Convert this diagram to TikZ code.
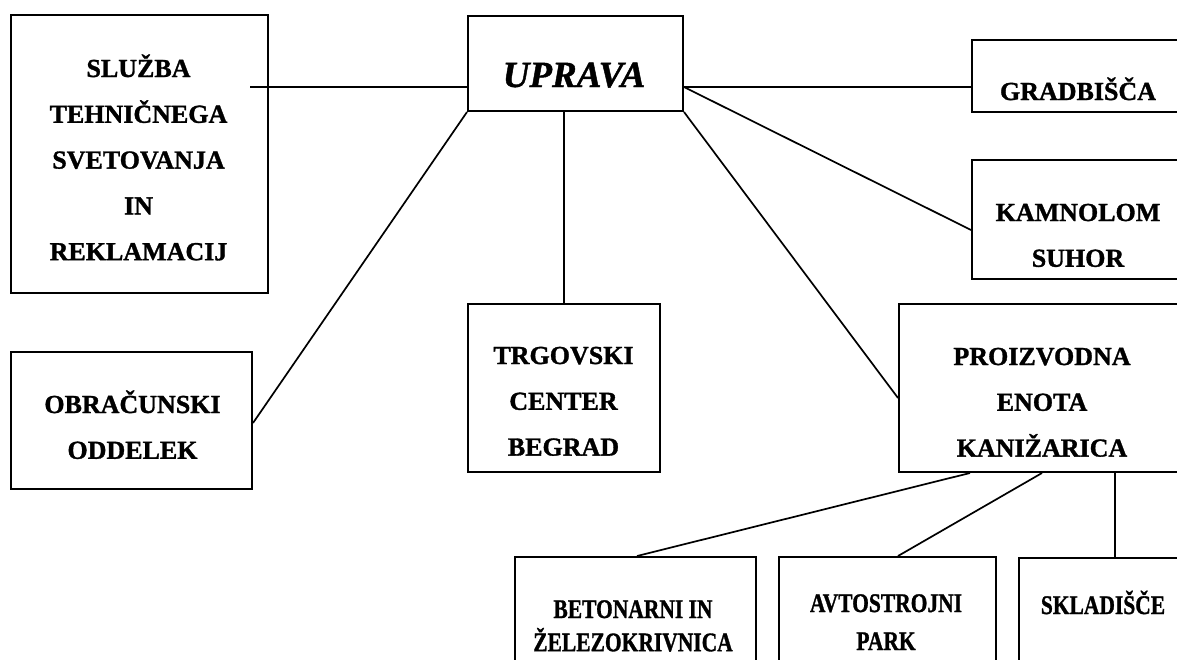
\documentclass[tikz,border=0pt]{standalone}
\usepackage{fontspec}
\usepackage{graphicx}
\setmainfont{Liberation Serif}[BoldFeatures={FakeBold=1.2},BoldItalicFeatures={FakeBold=1.2}]
\usetikzlibrary{calc}
\newcommand{\mlines}[1]{\begin{tabular}[t]{@{}c@{}}#1\end{tabular}}
\newcommand{\tall}[1]{\scalebox{1}[1.25]{#1}}
\tikzset{
  box/.style={draw, line width=2pt, rectangle, inner sep=0pt, anchor=north west},
  conn/.style={line width=1.7pt},
  txt/.style={inner sep=0pt, anchor=base, font=\fontsize{26}{45.8}\selectfont\bfseries},
  stxt/.style={inner sep=0pt, anchor=base, font=\fontsize{21.5}{33}\selectfont\bfseries},
}
\begin{document}
\begin{tikzpicture}[x=1pt, y=-1pt]
\useasboundingbox (0,0) rectangle (1177,659);
\clip (0,0) rectangle (1177,659);
\fill[white] (0,0) rectangle (1177,659);
% boxes
\node[box, minimum width=257pt, minimum height=278pt] (sluzba) at (10,14) {};
\node[box, minimum width=215pt, minimum height=95pt] (uprava) at (467,15) {};
\node[box, minimum width=220pt, minimum height=72pt] (grad) at (971,39) {};
\node[box, minimum width=220pt, minimum height=119pt] (kamn) at (971,159) {};
\node[box, minimum width=192pt, minimum height=168pt] (trg) at (467,303) {};
\node[box, minimum width=241pt, minimum height=137pt] (obr) at (10,351) {};
\node[box, minimum width=290pt, minimum height=168pt] (proiz) at (898,303) {};
\node[box, minimum width=241pt, minimum height=150pt] (beton) at (514,556) {};
\node[box, minimum width=217pt, minimum height=150pt] (avto) at (778,556) {};
\node[box, minimum width=170pt, minimum height=150pt] (sklad) at (1018,557) {};
% texts
\node[txt] (tsluzba) at (138.5,77) {\mlines{SLUŽBA\\TEHNIČNEGA\\SVETOVANJA\\IN\\REKLAMACIJ}};
\node[inner sep=0pt, anchor=base, font=\fontsize{37}{40}\selectfont\bfseries\itshape] (tuprava) at (574,87) {UPRAVA};
\node[txt] (tgrad) at (1078,100) {GRADBIŠČA};
\node[txt] (tkamn) at (1078,221) {\mlines{KAMNOLOM\\SUHOR}};
\node[txt] (ttrg) at (563.5,364) {\mlines{TRGOVSKI\\CENTER\\BEGRAD}};
\node[txt] (tobr) at (132.5,413) {\mlines{OBRAČUNSKI\\ODDELEK}};
\node[txt] (tproiz) at (1042,365) {\mlines{PROIZVODNA\\ENOTA\\KANIŽARICA}};
\node[stxt] (tbeton) at (633,618) {\mlines{\tall{BETONARNI IN}\\\tall{ŽELEZOKRIVNICA}}};
\node[stxt, font=\fontsize{21.5}{38}\selectfont\bfseries] (tavto) at (886,612) {\mlines{\tall{AVTOSTROJNI}\\\tall{PARK}}};
\node[stxt] (tsklad) at (1103,614) {\tall{SKLADIŠČE}};
% connection points
\coordinate (c1) at (250,87);
\coordinate (kin) at ($(kamn.north west)+(0,71)$);
\coordinate (pin) at ($(proiz.north west)+(0,95)$);
\coordinate (oin) at ($(obr.north east)+(0,72)$);
\coordinate (p1) at ($(proiz.south west)+(72,0)$);
\coordinate (p2) at ($(proiz.south west)+(144,0)$);
\coordinate (b1) at ($(beton.north west)+(123,0)$);
\coordinate (a1) at ($(avto.north west)+(120,0)$);
\coordinate (s1) at ($(sklad.north west)+(97,0)$);
% connectors
\draw[conn] (c1) -- (c1 -| uprava.west);
\draw[conn] (uprava.east |- c1) -- (c1 -| grad.west);
\draw[conn] (uprava.east |- c1) -- (kin);
\draw[conn] (uprava.south east) -- (pin);
\draw[conn] (trg.north |- uprava.south) -- (trg.north);
\draw[conn] (uprava.south west) -- (oin);
\draw[conn] (p1) -- (b1);
\draw[conn] (p2) -- (a1);
\draw[conn] (s1 |- proiz.south) -- (s1);
\end{tikzpicture}
\end{document}
